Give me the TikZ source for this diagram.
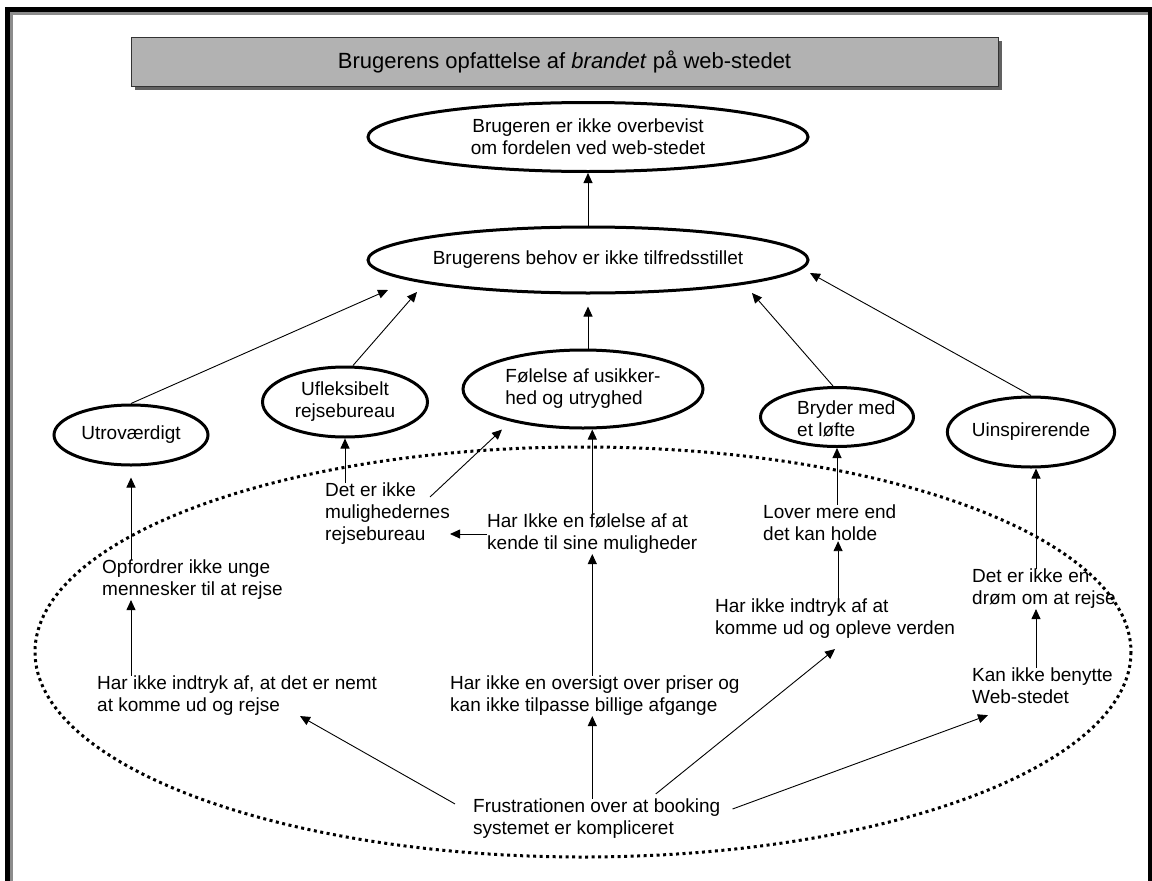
\documentclass[tikz,border=0pt]{standalone}
\usepackage{fontspec}
\setmainfont{Liberation Sans}
\usetikzlibrary{shapes.geometric,arrows.meta,calc,shadows}

\begin{document}
\begin{tikzpicture}[
    x=1pt, y=-1pt,
    every node/.style={font=\fontsize{19}{22}\selectfont},
    oval/.style={ellipse, draw, line width=3pt, inner sep=0pt, align=center},
    txt/.style={align=left, anchor=west, inner sep=0pt},
    arr/.style={-{Triangle[length=10pt,width=9pt]}, line width=0.9pt}
]
\useasboundingbox (0,0) rectangle (1152,881);

% frame
\draw[line width=5pt] (7.5,881) -- (7.5,9.5) -- (1150,9.5) -- (1150,881);
\draw[black!45, line width=3pt] (11.5,881) -- (11.5,13) -- (1147.5,13);

% title
\node[draw=black!80, fill=black!30, minimum width=867pt, minimum height=49pt,
      drop shadow={shadow xshift=4pt, shadow yshift=-4pt, fill=black!62, opacity=1},
      font=\fontsize{22}{26}\selectfont] (title) at (564.5,61.5)
      {Brugerens opfattelse af \textit{brandet} på web-stedet};

% top level
\node[oval, minimum width=440, minimum height=69] (ov1) at (588,137) {Brugeren er ikke overbevist\\om fordelen ved web-stedet};
\node[oval, minimum width=440, minimum height=66] (ov2) at (588,260) {Brugerens behov er ikke tilfredsstillet};

% second level
\node[oval, minimum width=154, minimum height=60] (utro) at (131,435) {Utroværdigt};
\node[oval, minimum width=165, minimum height=70] (ufleks) at (345,402) {Ufleksibelt\\rejsebureau};
\node[oval, minimum width=240, minimum height=78, align=left] (foel) at (583,389) {Følelse af usikker-\\hed og utryghed};
\node[oval, minimum width=153, minimum height=59] (bryd) at (837,417) {};
\node[txt] (brydtxt) at (797,419) {Bryder med\\et løfte};
\node[oval, minimum width=163, minimum height=70] (uinsp) at (1031,432) {Uinspirerende};

% dotted area
\draw[line width=3pt, dash pattern=on 3pt off 3.5pt] (583,652) ellipse [x radius=548, y radius=205];

% causes
\node[txt] (opf) at (102,580) {Opfordrer ikke unge\\mennesker til at rejse};
\node[txt] (nemt) at (97,696) {Har ikke indtryk af, at det er nemt\\at komme ud og rejse};
\node[txt] (mulig) at (325,514) {Det er ikke\\mulighedernes\\rejsebureau};
\node[txt] (kende) at (487,534) {Har Ikke en følelse af at\\kende til sine muligheder};
\node[txt] (priser) at (450,696) {Har ikke en oversigt over priser og\\kan ikke tilpasse billige afgange};
\node[txt] (frust) at (473,819) {Frustrationen over at booking\\systemet er kompliceret};
\node[txt] (verden) at (715,619) {Har ikke indtryk af at\\komme ud og opleve verden};
\node[txt] (lover) at (763,523) {Lover mere end\\det kan holde};
\node[txt] (droem) at (972,589) {Det er ikke en\\drøm om at rejse};
\node[txt] (benyt) at (972,686) {Kan ikke benytte\\Web-stedet};

% arrows to the top
\draw[arr] (ov2) -- (ov1);
\draw[arr] (utro.north) -- ([shift={(-200,30)}]ov2.center);
\draw[arr] ([shift={(8,0)}]ufleks.north) -- ([shift={(-171,32)}]ov2.center);
\draw[arr] (foel.north -| ov2.south) -- ([shift={(0,12)}]ov2.south);
\draw[arr] ([shift={(-4,0)}]bryd.north) -- ([shift={(164,33)}]ov2.center);
\draw[arr] (uinsp.north) -- ([shift={(222,13)}]ov2.center);

% arrows inside
\draw[arr] (opf.north -| utro.south) -- ([shift={(0,11)}]utro.south);
\draw[arr] (nemt.north -| utro.south) -- (opf.south -| utro.south);
\draw[arr] (mulig.north -| ufleks.south) -- (ufleks.south);
\draw[arr] ([shift={(-20,14)}]mulig.north east) -- ([shift={(-81,0)}]foel.south);
\draw[arr] (kende.north) -- (kende.north |- foel.south);
\draw[arr] (kende.west) -- (kende.west -| mulig.east);
\draw[arr] (priser.north -| kende.north) -- (kende.south);
\draw[arr] (frust.north -| kende.north) -- (priser.south -| kende.north);
\draw[arr] ([shift={(-18,5)}]frust.north west) -- ([shift={(203,0)}]nemt.south west);
\draw[arr] ([shift={(59,-5)}]frust.north) -- ([shift={(0,10)}]verden.south);
\draw[arr] ([shift={(12,-10)}]frust.east) -- ([shift={(16,11)}]benyt.south west);
\draw[arr] ([shift={(3,0)}]verden.north) -- ([shift={(3,0)}]verden.north |- lover.south);
\draw[arr] (lover.north -| bryd.south) -- (bryd.south);
\draw[arr] ([shift={(5,0)}]droem.north -| uinsp.south) -- ([shift={(5,0)}]uinsp.south);
\draw[arr] ([shift={(5,0)}]benyt.north -| uinsp.south) -- ([shift={(5,0)}]droem.south -| uinsp.south);
\end{tikzpicture}
\end{document}
